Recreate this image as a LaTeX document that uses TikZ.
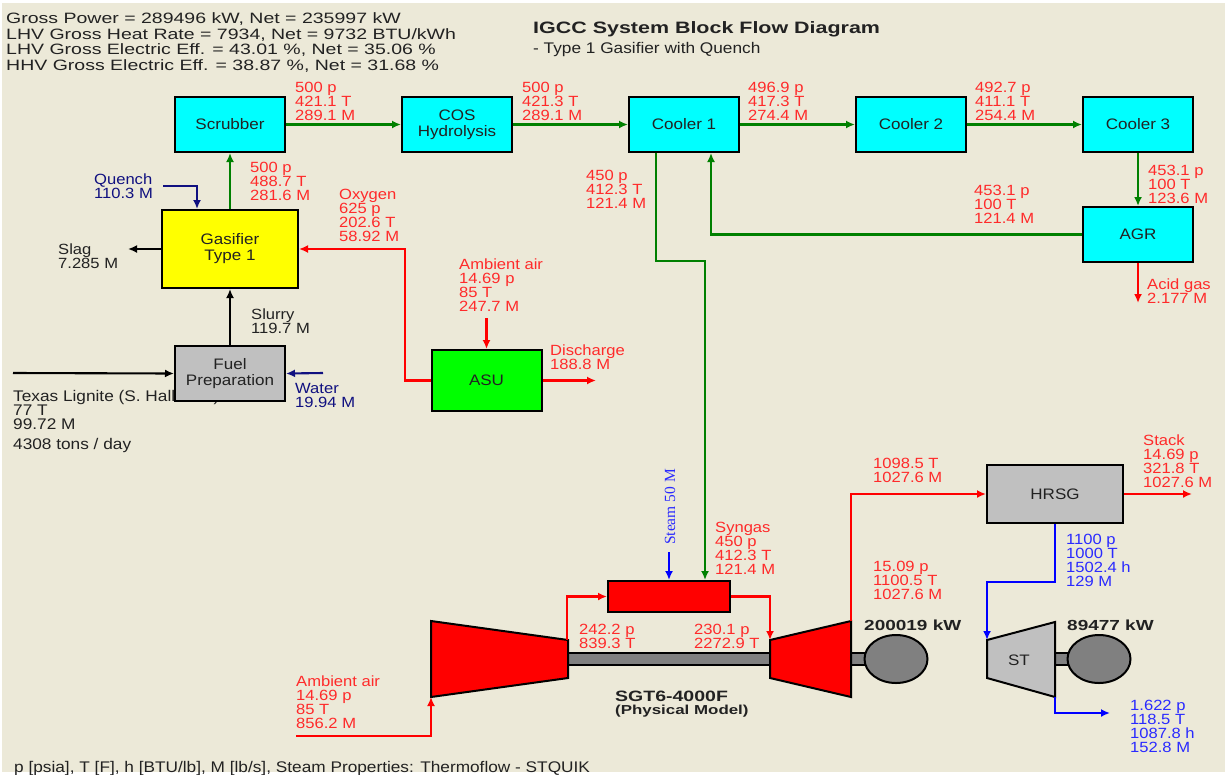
\documentclass[tikz,border=0pt]{standalone}
\usepackage{fontspec}
\setmainfont[FakeStretch=1.12]{Liberation Sans}
\newfontfamily\widef[FakeStretch=1.3]{Liberation Sans}
\usetikzlibrary{arrows.meta,shapes.geometric}
\definecolor{bgc}{HTML}{ECE9D8}
\definecolor{redt}{HTML}{FF2A2A}
\definecolor{bluet}{HTML}{2A2AFF}
\definecolor{navyt}{HTML}{101080}
\definecolor{darkt}{HTML}{222222}
\definecolor{grn}{HTML}{008000}
\definecolor{gry}{HTML}{C0C0C0}
\definecolor{shaftc}{HTML}{808080}
\definecolor{cyn}{HTML}{00FFFF}
\definecolor{yel}{HTML}{FFFF00}
\definecolor{lim}{HTML}{00FF00}
\definecolor{rd}{HTML}{FF0000}
\definecolor{bl}{HTML}{0000FF}
\tikzset{
 x=1pt,y=-1pt,
 block/.style={draw=black,line width=2pt,inner sep=0pt,align=center,font=\fontsize{15.2}{16}\selectfont,text=darkt},
 lab/.style={anchor=base west,inner sep=0pt,align=left,font=\fontsize{14.8}{14}\selectfont},
 r/.style={lab,text=redt},
 b/.style={lab,text=bluet},
 n/.style={lab,text=navyt},
 k/.style={lab,text=darkt},
 wide/.style={anchor=base west,inner sep=0pt,align=left,text=darkt},
 flow/.style={line width=2.1pt,-{Latex[length=9pt,width=8pt]}},
 flowg/.style={flow,draw=grn},
 flowr/.style={flow,draw=rd},
 flowb/.style={flow,draw=bl},
 flown/.style={flow,draw=navyt},
 flowk/.style={flow,draw=black},
 machine/.style={draw=black,line width=2pt,line join=miter},
 shaft/.style={draw=black,line width=2pt,fill=shaftc,inner sep=0pt},
 gen/.style={ellipse,draw=black,line width=2pt,fill=shaftc,inner sep=0pt,minimum width=63pt,minimum height=48pt},
}
\begin{document}
\begin{tikzpicture}
\useasboundingbox (0,0) rectangle (1225,774);
\fill[white] (0,0) rectangle (1225,774);
\fill[bgc] (2,3) rectangle (1225,772);
% header
\node[wide,font=\widef\fontsize{15}{15.4}\selectfont] (hdr) at (6,70) {Gross Power = 289496 kW, Net = 235997 kW\\LHV Gross Heat Rate = 7934, Net = 9732 BTU/kWh\\LHV Gross Electric Eff. = 43.01 \%, Net = 35.06 \%\\HHV Gross Electric Eff. = 38.87 \%, Net = 31.68 \%};
\node[wide,font=\widef\bfseries\fontsize{16.5}{16}\selectfont] (title) at (533,33) {IGCC System Block Flow Diagram};
\node[k,font=\fontsize{15.4}{14}\selectfont] (subtitle) at (533,53) {- Type 1 Gasifier with Quench};
% texts under boxes
\node[k,font=\fontsize{15.4}{14}\selectfont] (coal) at (13,429) {Texas Lignite (S. Hallsville)\\77 T\\99.72 M};
\node[k,font=\fontsize{15.4}{14}\selectfont] (tons) at (13,449) {4308 tons / day};
% blocks
\node[block,fill=cyn,minimum width=110pt,minimum height=55pt] (scrubber) at (230,124.5) {Scrubber};
\node[block,fill=cyn,minimum width=110pt,minimum height=55pt] (cos) at (457,124.5) {COS\\Hydrolysis};
\node[block,fill=cyn,minimum width=110pt,minimum height=55pt] (cooler1) at (684,124.5) {Cooler 1};
\node[block,fill=cyn,minimum width=110pt,minimum height=55pt] (cooler2) at (911,124.5) {Cooler 2};
\node[block,fill=cyn,minimum width=110pt,minimum height=55pt] (cooler3) at (1138,124.5) {Cooler 3};
\node[block,fill=cyn,minimum width=110pt,minimum height=55pt] (agr) at (1138,234.5) {AGR};
\node[block,fill=yel,minimum width=136pt,minimum height=78pt] (gasifier) at (230,249) {Gasifier\\Type 1};
\node[block,fill=gry,minimum width=110pt,minimum height=55pt] (fuel) at (230,373.5) {Fuel\\Preparation};
\node[block,fill=lim,minimum width=110pt,minimum height=61pt] (asu) at (486.5,380.5) {ASU};
\node[block,fill=gry,minimum width=136pt,minimum height=58pt] (hrsg) at (1055,494) {HRSG};
\node[block,fill=rd,minimum width=122pt,minimum height=31pt] (burner) at (669,596.5) {};
% free ends
\coordinate (quenchin) at (163,186);
\coordinate (slagout) at (128,249);
\coordinate (coalin) at (13,373);
\coordinate (waterin) at (323,373);
\coordinate (airasu) at (486.5,318);
\coordinate (dis) at (596,380.5);
\coordinate (acid) at (1138,303);
\coordinate (steamin) at (669,552);
\coordinate (airgt) at (296,736);
\coordinate (stack) at (1192,494);
\coordinate (stout) at (1110,713);
% machines
\node[shaft,minimum width=204pt,minimum height=12pt] (gtshaft) at (669,659) {};
\node[shaft,minimum width=16pt,minimum height=12pt] (genshaft) at (858,659) {};
\node[shaft,minimum width=16pt,minimum height=12pt] (stshaft) at (1061,659) {};
\node[gen] (gen1) at (896,659) {};
\node[gen] (gen2) at (1099,659) {};
\coordinate (cTL) at (431,621);
\coordinate (cBL) at (431,697);
\coordinate (cTR) at (568,640);
\coordinate (cBR) at (568,678);
\coordinate (tTL) at (770,640);
\coordinate (tBL) at (770,678);
\coordinate (tTR) at (851,621);
\coordinate (tBR) at (851,697);
\coordinate (sTL) at (987,640);
\coordinate (sBL) at (987,678);
\coordinate (sTR) at (1055,622);
\coordinate (sBR) at (1055,697);
\fill[rd] (cTL)--(cTR)--(cBR)--(cBL)--cycle;
\draw[machine] (cTL)--(cTR)--(cBR)--(cBL)--cycle;
\fill[rd] (tTL)--(tTR)--(tBR)--(tBL)--cycle;
\draw[machine] (tTL)--(tTR)--(tBR)--(tBL)--cycle;
\fill[gry] (sTL)--(sTR)--(sBR)--(sBL)--cycle;
\draw[machine] (sTL)--(sTR)--(sBR)--(sBL)--cycle;
\node[inner sep=0pt,font=\fontsize{15.2}{16}\selectfont,text=darkt] (stlabel) at (1019,660) {ST};
% connectors
\draw[flowg] (scrubber.east) -- (cos.west);
\draw[flowg] (cos.east) -- (cooler1.west);
\draw[flowg] (cooler1.east) -- (cooler2.west);
\draw[flowg] (cooler2.east) -- (cooler3.west);
\draw[flowg] (cooler3.south) -- (agr.north);
\draw[flowg] (agr.west) -| ([xshift=27pt]cooler1.south);
\draw[flowg] ([xshift=-28pt]cooler1.south) |- (705,261) -- ([xshift=36pt]burner.north);
\draw[flowg] (gasifier.north) -- (scrubber.south);
\draw[flown] (quenchin) -| ([xshift=-33pt]gasifier.north);
\draw[flowk] (gasifier.west) -- (slagout);
\draw[flowk] (fuel.north) -- (gasifier.south);
\draw[flowk] (coalin) -- (fuel.west);
\draw[flown] (waterin) -- (fuel.east);
\draw[flowr] (asu.west) -| (405,249) -- (gasifier.east);
\draw[flowr] (airasu) -- (asu.north);
\draw[flowr] (asu.east) -- (dis);
\draw[flowr] (agr.south) -- (acid);
\draw[flowb] (steamin) -- (burner.north);
\draw[flowr] (567,640) |- (burner.west);
\draw[flowr] (burner.east) -| (tTL);
\draw[flowr] (airgt) -| (cBL);
\draw[flowr] (tTR) |- (hrsg.west);
\draw[flowr] (hrsg.east) -- (stack);
\draw[flowb] (hrsg.south) |- (987,582) -- (sTL);
\draw[flowb] (sBR) |- (stout);
% labels
\node[r] (l1) at (295,120) {500 p\\421.1 T\\289.1 M};
\node[r] (l2) at (522,120) {500 p\\421.3 T\\289.1 M};
\node[r] (l3) at (748,120) {496.9 p\\417.3 T\\274.4 M};
\node[r] (l4) at (975,120) {492.7 p\\411.1 T\\254.4 M};
\node[r] (l5) at (1148,203) {453.1 p\\100 T\\123.6 M};
\node[r] (l6) at (250,200) {500 p\\488.7 T\\281.6 M};
\node[n] (l7) at (94,198) {Quench\\110.3 M};
\node[r] (l8) at (339,241) {Oxygen\\625 p\\202.6 T\\58.92 M};
\node[r] (l9) at (586,208) {450 p\\412.3 T\\121.4 M};
\node[r] (l10) at (974,223) {453.1 p\\100 T\\121.4 M};
\node[r] (l11) at (459,311) {Ambient air\\14.69 p\\85 T\\247.7 M};
\node[r] (l12) at (550,369) {Discharge\\188.8 M};
\node[r] (l13) at (1147,303) {Acid gas\\2.177 M};
\node[k] (l14) at (58,268) {Slag\\7.285 M};
\node[k] (l15) at (251,333) {Slurry\\119.7 M};
\node[n] (l16) at (295,407) {Water\\19.94 M};
\node[r] (l17) at (715,574) {Syngas\\450 p\\412.3 T\\121.4 M};
\node[r] (l18) at (873,482) {1098.5 T\\1027.6 M};
\node[r] (l19) at (873,599) {15.09 p\\1100.5 T\\1027.6 M};
\node[r] (l20) at (579,648) {242.2 p\\839.3 T};
\node[r] (l21) at (694,648) {230.1 p\\2272.9 T};
\node[wide,font=\widef\bfseries\fontsize{14.6}{14}\selectfont] (p1) at (864,630) {200019 kW};
\node[wide,font=\widef\bfseries\fontsize{14.6}{14}\selectfont] (p2) at (1067,630) {89477 kW};
\node[wide,font=\widef\bfseries\fontsize{15}{14}\selectfont] (sgt) at (615,701) {SGT6-4000F};
\node[wide,font=\widef\bfseries\fontsize{13}{14}\selectfont] (phys) at (615,714) {(Physical Model)};
\node[r] (l22) at (296,728) {Ambient air\\14.69 p\\85 T\\856.2 M};
\node[r] (l23) at (1143,487) {Stack\\14.69 p\\321.8 T\\1027.6 M};
\node[b] (l24) at (1066,586) {1100 p\\1000 T\\1502.4 h\\129 M};
\node[b] (l25) at (1130,752) {1.622 p\\118.5 T\\1087.8 h\\152.8 M};
\node[k,font=\fontsize{15.4}{14}\selectfont] (foot) at (14,772) {p [psia], T [F], h [BTU/lb], M [lb/s], Steam Properties: Thermoflow - STQUIK};
\node[rotate=90,inner sep=0pt,text=bluet,font=\fontspec{Liberation Serif}\fontsize{15.5}{14}\selectfont] (steam) at (670,507) {Steam 50 M};
\end{tikzpicture}
\end{document}
